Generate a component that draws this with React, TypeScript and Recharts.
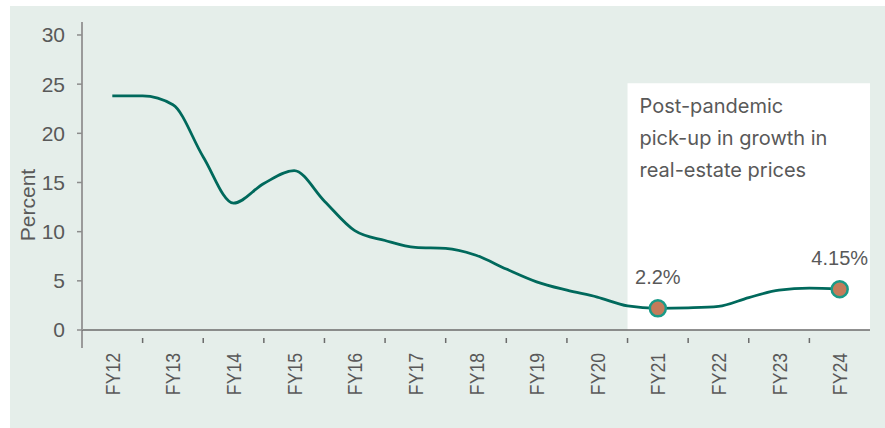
import { ComposedChart, Line, XAxis, YAxis, ReferenceArea, ReferenceLine } from 'recharts';

// fiscal-year labels on the axis
const years = ['FY12', 'FY13', 'FY14', 'FY15', 'FY16', 'FY17', 'FY18', 'FY19', 'FY20', 'FY21', 'FY22', 'FY23', 'FY24'];
// half-yearly readings: position in fiscal years, growth in percent
const positions = [12, 12.5, 13, 13.5, 14, 14.5, 15, 15.5, 16, 16.5, 17, 17.5, 18, 18.5, 19, 19.5, 20, 20.5, 21, 21.5, 22, 22.5, 23, 23.5, 24];
const growth = [23.8, 23.8, 22.9, 17.6, 12.9, 14.9, 16.2, 13.1, 10.1, 9.1, 8.4, 8.3, 7.6, 6.2, 4.9, 4.05, 3.35, 2.45, 2.2, 2.25, 2.4, 3.3, 4.05, 4.25, 4.15];
// highlighted points
const callouts: Record<number, string> = { 21: '2.2%', 24: '4.15%' };
const yTicks = [0, 5, 10, 15, 20, 25, 30];
const note = ['Post-pandemic', 'pick-up in growth in', 'real-estate prices'];

const data = positions.map((p, i) => ({ pos: p, value: growth[i] }));
const yearTicks = years.map((_, i) => 12 + i);

const W = 885;
const H = 428;
const BAND = (870 - 82) / years.length;
const TEXT = '#595959';
const FONT = '"Liberation Sans", Arial, sans-serif';

const YearTick = (props: any) => {
  const { x, y, payload, index } = props;
  const label = 'FY' + payload.value;
  return (
    <g>
      {index > 0 && <line x1={x - BAND / 2} x2={x - BAND / 2} y1={y} y2={y + 5} stroke="#6b6b6b" strokeWidth={1.5} />}
      <text
        transform={`translate(${x + 7.5},${y + 15}) rotate(-90) scale(0.84,1)`}
        textAnchor="end"
        fontSize={21}
        fontFamily={FONT}
        fill={TEXT}
      >
        {label}
      </text>
    </g>
  );
};

const CalloutDot = (props: any) => {
  const { cx, cy, payload, index } = props;
  const text = callouts[payload.pos];
  if (!text) return <g key={index} />;
  return (
    <g key={index}>
      <circle cx={cx} cy={cy} r={8} fill="#c47b5a" stroke="#1a9a87" strokeWidth={2.5} />
      <text x={cx} y={cy - 24} textAnchor="middle" fontSize={20} fontFamily={FONT} fill={TEXT}>
        {text}
      </text>
    </g>
  );
};

const NoteLabel = (props: any) => {
  const { viewBox } = props;
  if (!viewBox) return null;
  return (
    <g>
      {note.map((line, i) => (
        <text key={i} x={viewBox.x + 12} y={viewBox.y + 30 + i * 32} fontSize={20} fontFamily="Inter, Roboto, sans-serif" fill={TEXT}>
          {line}
        </text>
      ))}
    </g>
  );
};

const PercentLabel = () => (
  <text transform="translate(35,205) rotate(-90)" textAnchor="middle" fontSize={21} fontFamily={FONT} fill={TEXT}>
    Percent
  </text>
);

export default function App() {
  return (
    <div style={{ position: 'absolute', left: 0, top: 0, width: W, height: H, background: '#ffffff' }}>
      <div style={{ position: 'absolute', left: 10, top: 6, width: W - 10, height: H - 6, background: '#e5eeea' }} />
      <div style={{ position: 'absolute', left: 0, top: 0 }}>
        <ComposedChart width={W} height={H} data={data} margin={{ top: 22, right: 15, bottom: 38, left: 22 }}>
          <ReferenceArea x1={20.5} x2={24.5} y1={0} y2={25.1} fill="#ffffff" fillOpacity={1} stroke="none" label={<NoteLabel />} />
          <XAxis
            dataKey="pos"
            type="number"
            domain={[11.5, 24.5]}
            ticks={yearTicks}
            interval={0}
            height={60}
            tick={<YearTick />}
            tickLine={false}
            axisLine={{ stroke: '#6b6b6b', strokeWidth: 1.5 }}
            allowDataOverflow
          />
          <YAxis
            type="number"
            domain={[0, 31.32]}
            ticks={yTicks}
            width={60}
            tickSize={5}
            tickMargin={12}
            tick={{ fontSize: 21, fontFamily: FONT, fill: TEXT }}
            tickLine={{ stroke: '#8c8c8c', strokeWidth: 1.5 }}
            axisLine={{ stroke: '#9a9a9a', strokeWidth: 2 }}
            allowDataOverflow
            label={<PercentLabel />}
          />
          <ReferenceLine
            segment={[{ x: 11.5, y: 0 }, { x: 11.5, y: -1.83 }]}
            stroke="#9a9a9a"
            strokeWidth={2}
            ifOverflow="visible"
          />
          <Line
            type="monotone"
            dataKey="value"
            stroke="#00695c"
            strokeWidth={2.8}
            dot={CalloutDot}
            activeDot={false}
            isAnimationActive={false}
          />
        </ComposedChart>
      </div>
    </div>
  );
}
